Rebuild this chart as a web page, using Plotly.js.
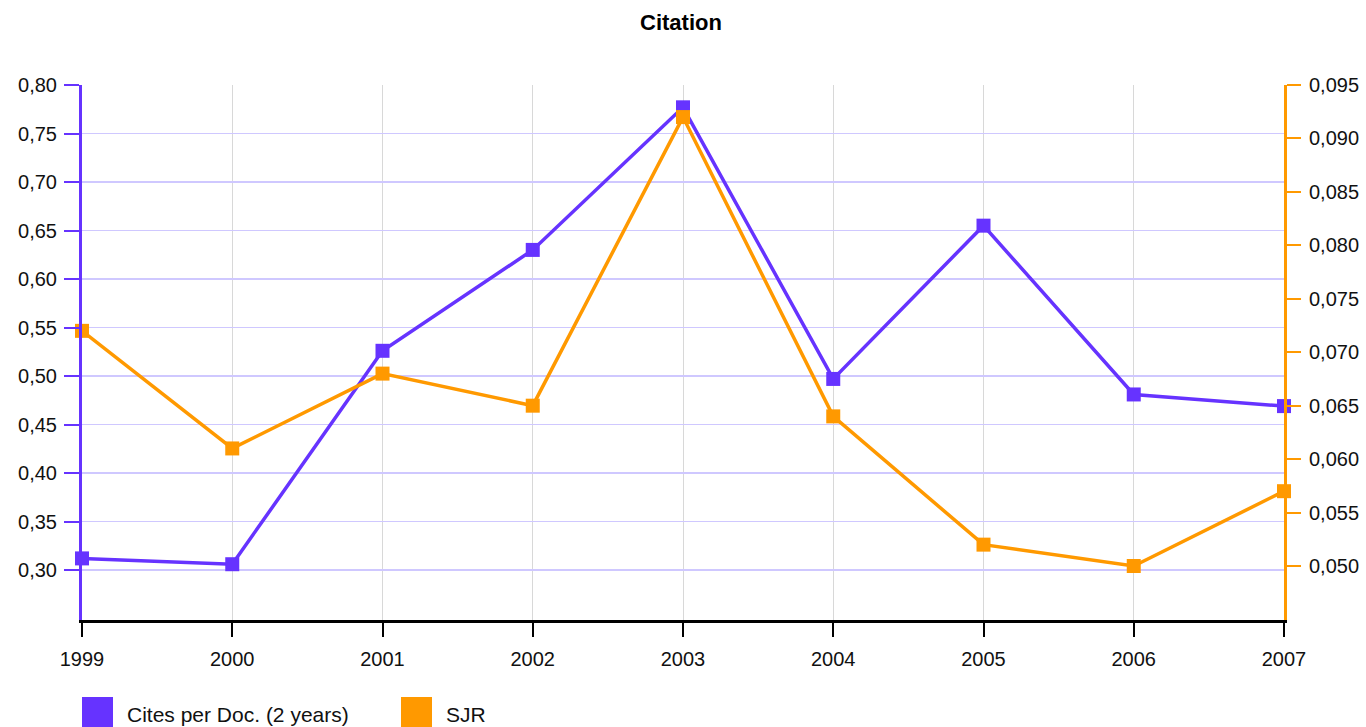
<!DOCTYPE html>
<html><head><meta charset="utf-8">
<script src="https://cdn.plot.ly/plotly-3.0.1.min.js"></script>
<style>html,body{margin:0;padding:0;background:#fff;}#chart{width:1366px;height:727px;}</style>
</head><body><div id="chart"></div>
<script>
const years = [1999, 2000, 2001, 2002, 2003, 2004, 2005, 2006, 2007];
const citesPerDoc = [0.312, 0.306, 0.526, 0.630, 0.777, 0.497, 0.655, 0.481, 0.469];
const sjr = [0.072, 0.061, 0.068, 0.065, 0.092, 0.064, 0.052, 0.050, 0.057];
const seriesNames = ["Cites per Doc. (2 years)", "SJR"];
const leftTicks = [0.30, 0.35, 0.40, 0.45, 0.50, 0.55, 0.60, 0.65, 0.70, 0.75, 0.80];
const rightTicks = [0.050, 0.055, 0.060, 0.065, 0.070, 0.075, 0.080, 0.085, 0.090, 0.095];
const titleText = "Citation";

const PURPLE = "#6633ff", ORANGE = "#ff9900";
const FONT = "Liberation Sans, Arial, sans-serif";

const traces = [
  {x: years, y: citesPerDoc, name: seriesNames[0], type: "scatter", mode: "lines+markers",
   line: {color: PURPLE, width: 3.5}, marker: {symbol: "square", size: 14, color: PURPLE},
   yaxis: "y", showlegend: false, cliponaxis: false},
  {x: years, y: sjr, name: seriesNames[1], type: "scatter", mode: "lines+markers",
   line: {color: ORANGE, width: 3.5}, marker: {symbol: "square", size: 14, color: ORANGE},
   yaxis: "y2", showlegend: false, cliponaxis: false}
];

const layout = {
  width: 1366, height: 727,
  margin: {l: 82, r: 82, t: 85, b: 107},
  paper_bgcolor: "#fff", plot_bgcolor: "#fff",
  separators: ",.",
  font: {family: FONT, size: 20, color: "#111"},
  title: {text: "<b>" + titleText + "</b>", x: 0.4985, xanchor: "center", y: 0.97, yanchor: "middle",
          font: {family: FONT, size: 22, color: "#000"}},
  showlegend: false,
  xaxis: {
    range: [1999, 2007], tickvals: years, ticktext: years.map(String),
    showgrid: true, gridcolor: "#d8d8d8", gridwidth: 1,
    showline: true, linecolor: "#000", linewidth: 3,
    ticks: "outside", ticklen: 14, tickwidth: 2, tickcolor: "#000", ticklabelstandoff: 5,
    tickfont: {family: FONT, size: 20, color: "#111"}, zeroline: false, fixedrange: true
  },
  yaxis: {
    range: [0.2485, 0.80], tickvals: leftTicks, ticktext: leftTicks.map(v => v.toFixed(2).replace(".", ",")),
    showgrid: true, gridcolor: "#cfc8ff", gridwidth: 1.5,
    showline: true, linecolor: PURPLE, linewidth: 3,
    ticks: "outside", ticklen: 15, tickwidth: 2, tickcolor: PURPLE, ticklabelstandoff: 3,
    tickfont: {family: FONT, size: 20, color: "#111"}, zeroline: false, fixedrange: true
  },
  yaxis2: {
    range: [0.04495, 0.095], tickvals: rightTicks, ticktext: rightTicks.map(v => v.toFixed(3).replace(".", ",")),
    overlaying: "y", side: "right", showgrid: false,
    showline: true, linecolor: ORANGE, linewidth: 3,
    ticks: "outside", ticklen: 14, tickwidth: 2, tickcolor: ORANGE, ticklabelstandoff: 4,
    tickfont: {family: FONT, size: 20, color: "#111"}, zeroline: false, fixedrange: true
  },
  shapes: [
    {type: "rect", xref: "paper", yref: "paper", x0: 0, x1: 31/1202, y0: -0.144, y1: -0.205,
     fillcolor: PURPLE, line: {width: 0}},
    {type: "rect", xref: "paper", yref: "paper", x0: 319/1202, x1: 350/1202, y0: -0.144, y1: -0.205,
     fillcolor: ORANGE, line: {width: 0}}
  ],
  annotations: [
    {xref: "paper", yref: "paper", x: 43/1202, y: -0.176, xanchor: "left", yanchor: "middle",
     text: seriesNames[0], showarrow: false, font: {family: FONT, size: 21, color: "#111"}},
    {xref: "paper", yref: "paper", x: 362/1202, y: -0.176, xanchor: "left", yanchor: "middle",
     text: seriesNames[1], showarrow: false, font: {family: FONT, size: 21, color: "#111"}}
  ]
};

Plotly.newPlot("chart", traces, layout, {displayModeBar: false, staticPlot: true});
</script></body></html>
